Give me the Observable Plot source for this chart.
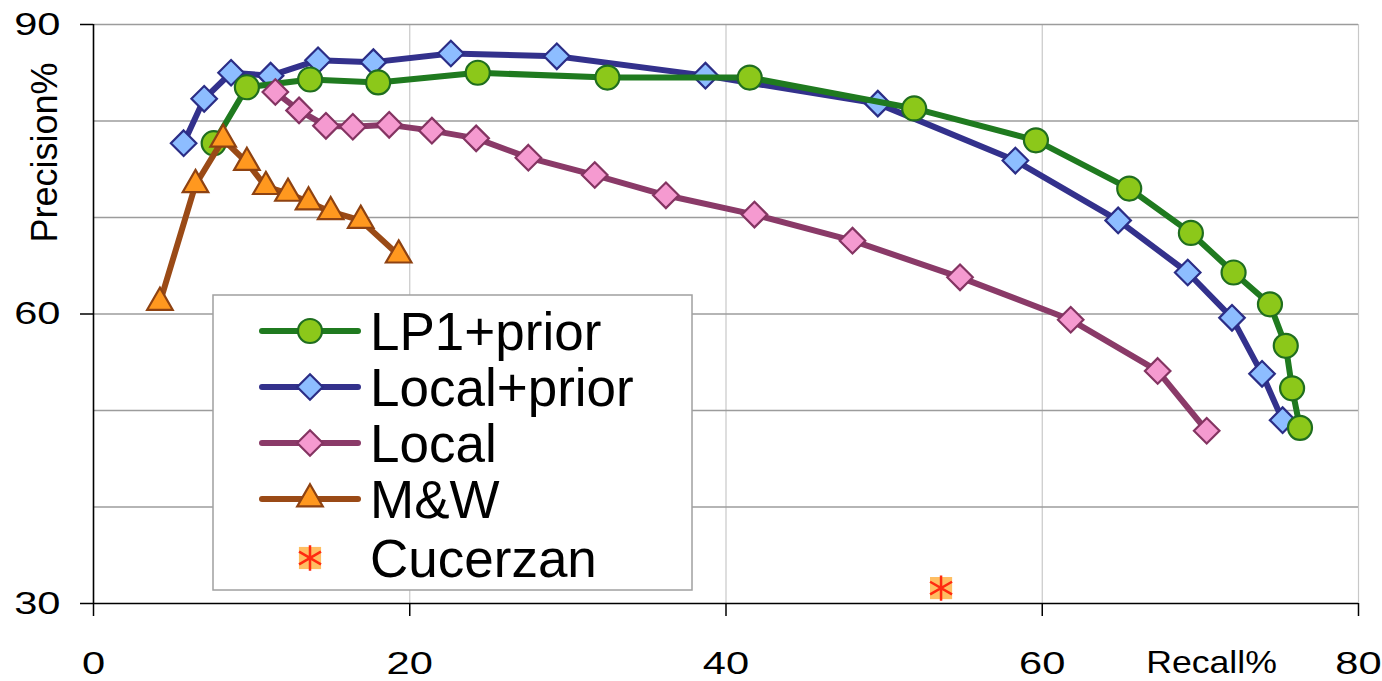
<!DOCTYPE html>
<html>
<head>
<meta charset="utf-8">
<script src="https://cdn.jsdelivr.net/npm/d3@7"></script>
<script src="https://cdn.jsdelivr.net/npm/@observablehq/plot@0.6"></script>
<style>
  html, body { margin: 0; padding: 0; background: #fff; }
  #chart svg { display: block; }
</style>
</head>
<body>
<div id="chart"></div>
<script>
// ---- data (Recall %, Precision %) ----
const lp1PriorRecall    = [7.6, 9.7, 13.7, 18.0, 24.3, 32.5, 41.5, 51.9, 59.6, 65.5, 69.4, 72.1, 74.4, 75.4, 75.8, 76.3];
const lp1PriorPrecision = [77.7, 83.5, 84.3, 84.0, 85.0, 84.5, 84.5, 81.3, 78.0, 73.0, 68.4, 64.3, 61.0, 56.7, 52.3, 48.2];

const localPriorRecall    = [5.7, 7.0, 8.7, 11.2, 14.2, 17.7, 22.6, 29.3, 38.7, 49.6, 58.3, 64.8, 69.2, 72.0, 73.9, 75.2];
const localPriorPrecision = [77.7, 82.3, 85.0, 84.7, 86.3, 86.1, 87.0, 86.7, 84.7, 81.8, 75.9, 69.7, 64.3, 59.6, 53.8, 49.0];

const localRecall    = [11.5, 13.0, 14.7, 16.4, 18.7, 21.4, 24.2, 27.5, 31.7, 36.2, 41.8, 48.0, 54.8, 61.8, 67.3, 70.4];
const localPrecision = [83.0, 81.1, 79.5, 79.4, 79.6, 79.0, 78.2, 76.2, 74.4, 72.3, 70.3, 67.6, 63.8, 59.4, 54.1, 47.9];

const mwRecall    = [4.2, 6.45, 8.2, 9.7, 10.9, 12.3, 13.6, 15.0, 16.9, 19.3];
const mwPrecision = [61.2, 73.4, 78.1, 75.7, 73.2, 72.5, 71.6, 70.6, 69.7, 66.1];

const cucerzanRecall    = [53.6];
const cucerzanPrecision = [31.6];

const seriesNames = ["LP1+prior", "Local+prior", "Local", "M&W", "Cucerzan"];
const xTicks = [0, 20, 40, 60, 80];
const yTicks = [30, 60, 90];
const yGrid  = [40, 50, 60, 70, 80, 90];
const xGrid  = [20, 40, 60, 80];

// ---- styles ----
const styles = {
  "LP1+prior":   {line: "#1f7a1f", fill: "#8cc81a", stroke: "#1f6e1f", symbol: "circle",   r: 12},
  "Local+prior": {line: "#33318c", fill: "#8dbdff", stroke: "#2b2d86", symbol: "diamond2", r: 11.5},
  "Local":       {line: "#8a3a68", fill: "#f59ad0", stroke: "#843462", symbol: "diamond2", r: 11.5},
  "M&W":         {line: "#9a4a16", fill: "#ff981f", stroke: "#8e4212", symbol: "triangle", r: 9.5}
};

const zip = (xs, ys) => xs.map((x, i) => ({x, y: ys[i]}));
const data = {
  "LP1+prior":   zip(lp1PriorRecall, lp1PriorPrecision),
  "Local+prior": zip(localPriorRecall, localPriorPrecision),
  "Local":       zip(localRecall, localPrecision),
  "M&W":         zip(mwRecall, mwPrecision)
};
const cucerzan = zip(cucerzanRecall, cucerzanPrecision);

const drawOrder = ["Local+prior", "LP1+prior", "Local", "M&W"];
const seriesMarks = drawOrder.flatMap(name => {
  const s = styles[name];
  return [
    Plot.line(data[name], {x: "x", y: "y", stroke: s.line, strokeWidth: 6, strokeLinejoin: "round"}),
    Plot.dot(data[name], {x: "x", y: "y", symbol: s.symbol, r: s.r, fill: s.fill, stroke: s.stroke, strokeWidth: 2.2})
  ];
});

const FONT = "Liberation Sans, Arial, Helvetica, sans-serif";

const chart = Plot.plot({
  width: 1382,
  height: 681,
  marginLeft: 93,
  marginRight: 24,
  marginTop: 24,
  marginBottom: 78,
  style: {fontFamily: FONT, background: "#fff", color: "#000"},
  x: {domain: [0, 80]},
  y: {domain: [30, 90]},
  marks: [
    Plot.gridX(xGrid, {stroke: "#c8c8c8", strokeOpacity: 1, strokeWidth: 1.2}),
    Plot.gridY(yGrid, {stroke: "#9c9c9c", strokeOpacity: 1, strokeWidth: 1.6}),
    Plot.axisY(yTicks, {tickSize: 13, tickPadding: 20, fontSize: 32, label: null, stroke: "#000", strokeWidth: 1.5}),
    Plot.axisX(xTicks, {tickSize: 13, tickPadding: 35, fontSize: 32, label: null, stroke: "#000", strokeWidth: 1.5}),
    Plot.ruleX([0], {stroke: "#000", strokeWidth: 1.6}),
    Plot.ruleY([30], {stroke: "#000", strokeWidth: 1.6}),
    ...seriesMarks,
    Plot.dot(cucerzan, {x: "x", y: "y", symbol: "square", r: 12.5, fill: "#ffb347", fillOpacity: 0.85}),
    Plot.dot(cucerzan, {x: "x", y: "y", symbol: "asterisk", r: 12, stroke: "#ff2a10", strokeWidth: 2.5}),
    Plot.text(["Precision%"], {frameAnchor: "top-left", dx: -48, dy: 128, rotate: -90, fontSize: 36, textAnchor: "middle", lineAnchor: "middle", fill: "#000"}),
    Plot.text(["Recall%"], {frameAnchor: "bottom-right", dx: -147, dy: 60, fontSize: 31, textAnchor: "middle", lineAnchor: "middle", fill: "#000"})
  ]
});

document.getElementById("chart").append(chart);

const svg = d3.select(chart);
// widen glyphs of tick labels and the x title to match the reference's wide lettering
function widen(sel, k) {
  sel.each(function() {
    const t = this.getAttribute("transform") || "";
    this.setAttribute("transform", t + ` scale(${k},1)`);
  });
}
widen(svg.selectAll("g[aria-label='y-axis tick label'] text, g[aria-label='x-axis tick label'] text"), 1.3);
widen(svg.selectAll("text").filter(function() { return this.textContent === "Recall%"; }), 1.15);

// ---- legend (inside plot area) ----
const lg = svg.append("g").attr("class", "legend").attr("text-anchor", "start");
lg.append("rect")
  .attr("x", 213).attr("y", 295).attr("width", 479).attr("height", 295)
  .attr("fill", "#fff").attr("stroke", "#a0a0a0").attr("stroke-width", 1.5);

const rowY = [331, 387, 443, 499, 558];
const symbolOf = {circle: d3.symbolCircle, diamond2: d3.symbolDiamond2, triangle: d3.symbolTriangle};
seriesNames.forEach((name, i) => {
  const y = rowY[i];
  const g = lg.append("g");
  if (styles[name]) {
    const s = styles[name];
    g.append("line").attr("x1", 262).attr("x2", 358).attr("y1", y).attr("y2", y)
      .attr("stroke", s.line).attr("stroke-width", 6).attr("stroke-linecap", "round");
    g.append("path").attr("transform", `translate(310,${y})`)
      .attr("d", d3.symbol(symbolOf[s.symbol], Math.PI * s.r * s.r)())
      .attr("fill", s.fill).attr("stroke", s.stroke).attr("stroke-width", 2.2);
  } else {
    g.append("path").attr("transform", `translate(310,${y})`)
      .attr("d", d3.symbol(d3.symbolSquare, Math.PI * 12.5 * 12.5)())
      .attr("fill", "#ffb347").attr("fill-opacity", 0.85);
    g.append("path").attr("transform", `translate(310,${y})`)
      .attr("d", d3.symbol(d3.symbolAsterisk, Math.PI * 12 * 12)())
      .attr("fill", "none").attr("stroke", "#ff2a10").attr("stroke-width", 2.5);
  }
  g.append("text").attr("x", 370).attr("y", y + 19)
    .attr("text-anchor", "start")
    .attr("font-family", FONT).attr("font-size", 53).attr("fill", "#000")
    .text(name);
});
</script>
</body>
</html>
